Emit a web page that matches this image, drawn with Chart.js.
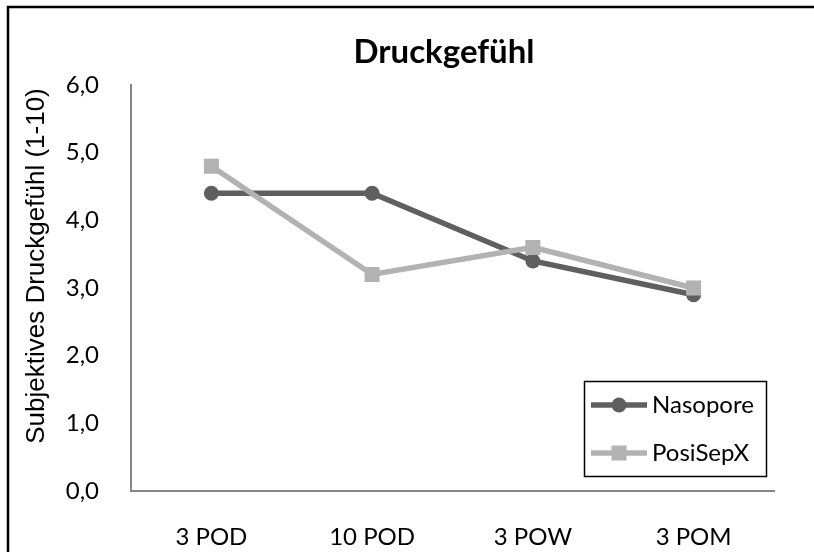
<!DOCTYPE html>
<html>
<head>
<meta charset="utf-8">
<script src="https://cdn.jsdelivr.net/npm/chart.js@4.4.0/dist/chart.umd.min.js"></script>
<style>
  html, body { margin: 0; padding: 0; background: #fff; }
  #wrap { width: 814px; height: 552px; }
</style>
</head>
<body>
<div id="wrap"><canvas id="chart" width="814" height="552"></canvas></div>
<script>
const chartTitle = 'Druckgefühl';
const yAxisTitle = 'Subjektives Druckgefühl (1-10)';
const categories = ['3 POD', '10 POD', '3 POW', '3 POM'];
const seriesNames = ['Nasopore', 'PosiSepX'];
const nasopore = [4.4, 4.4, 3.4, 2.9];
const posiSepX = [4.8, 3.2, 3.6, 3.0];
const yMin = 0, yMax = 6, yStep = 1;

const labelFont = 'Lato';

// frame, titles and the boxed legend
const decorPlugin = {
    id: 'decor',
    beforeDraw(chart) {
        let ctx = chart.ctx;
        ctx.save();
        ctx.fillStyle = '#fff';
        ctx.fillRect(0, 0, chart.width, chart.height);
        ctx.strokeStyle = '#000';
        ctx.lineWidth = 2.5;
        ctx.strokeRect(8, 7, chart.width + 10, chart.height + 10);
        ctx.restore();
    },
    afterDraw(chart) {
        let ctx = chart.ctx;
        ctx.save();
        ctx.fillStyle = '#000';
        ctx.font = 'bold 33px ' + labelFont;
        ctx.textAlign = 'center';
        ctx.textBaseline = 'alphabetic';
        ctx.fillText(chartTitle, 444, 63);

        // y axis title
        ctx.save();
        ctx.translate(37, 266);
        ctx.rotate(-Math.PI / 2);
        ctx.font = '26px "Liberation Sans"';
        ctx.textBaseline = 'middle';
        ctx.fillText(yAxisTitle, 0, 0);
        ctx.restore();

        // legend box
        ctx.strokeStyle = '#000';
        ctx.lineWidth = 1.5;
        ctx.strokeRect(584.5, 381.5, 182, 95);
        chart.data.datasets.forEach((ds, i) => {
            let y = 405 + i * 48;
            ctx.strokeStyle = ds.borderColor;
            ctx.lineWidth = ds.borderWidth;
            ctx.beginPath();
            ctx.moveTo(591, y);
            ctx.lineTo(647, y);
            ctx.stroke();
            ctx.fillStyle = ds.pointBackgroundColor;
            Chart.helpers.drawPoint(ctx, {pointStyle: ds.pointStyle, radius: ds.pointRadius, rotation: 0, borderWidth: 0}, 619, y);
            ctx.fillStyle = '#000';
            ctx.font = '24px ' + labelFont;
            ctx.textAlign = 'left';
            ctx.textBaseline = 'middle';
            ctx.fillText(ds.label, 652, y);
        });
        ctx.restore();
    }
};

let ctx = document.getElementById('chart');
let chart = new Chart(ctx, {
    type: 'line',
    data: {
        labels: categories,
        datasets: [{
            label: seriesNames[0],
            data: nasopore,
            borderColor: '#5f5f5f',
            backgroundColor: '#5f5f5f',
            pointBackgroundColor: '#5f5f5f',
            pointBorderColor: '#5f5f5f',
            borderWidth: 5.5,
            pointStyle: 'circle',
            pointRadius: 7.5,
            pointBorderWidth: 0,
            tension: 0,
            order: 1
        }, {
            label: seriesNames[1],
            data: posiSepX,
            borderColor: '#b2b2b2',
            backgroundColor: '#b2b2b2',
            pointBackgroundColor: '#b2b2b2',
            pointBorderColor: '#b2b2b2',
            borderWidth: 5.5,
            pointStyle: 'rect',
            pointRadius: 10.6,
            pointBorderWidth: 0,
            tension: 0,
            order: 0
        }]
    },
    options: {
        responsive: false,
        animation: false,
        layout: {
            padding: {left: 0, top: 85, right: 40, bottom: 0}
        },
        plugins: {
            legend: {display: false},
            tooltip: {enabled: false},
            title: {display: false}
        },
        scales: {
            x: {
                offset: true,
                grid: {display: false, offset: true},
                border: {display: true, color: '#868686', width: 2},
                ticks: {
                    color: '#000',
                    font: {family: labelFont, size: 24},
                    padding: 24,
                    maxRotation: 0
                },
                afterFit: function(scale) { scale.height = 61; }
            },
            y: {
                min: yMin,
                max: yMax,
                grid: {display: false},
                border: {display: true, color: '#868686', width: 2},
                ticks: {
                    stepSize: yStep,
                    color: '#000',
                    font: {family: labelFont, size: 24},
                    padding: 24,
                    callback: (v) => v.toFixed(1).replace('.', ',')
                },
                afterFit: function(scale) { scale.width = 131; }
            }
        }
    },
    plugins: [decorPlugin]
});
</script>
</body>
</html>
